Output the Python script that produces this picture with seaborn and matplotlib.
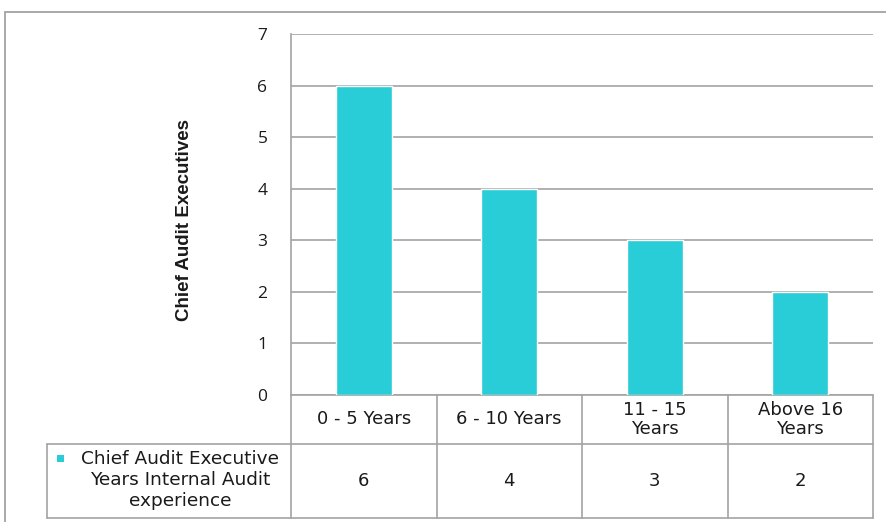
import matplotlib
matplotlib.use("Agg")
import matplotlib.pyplot as plt
import matplotlib.transforms as mtransforms
from matplotlib.patches import Rectangle
import seaborn as sns
import pandas as pd

# Data
categories = ["0 - 5 Years", "6 - 10 Years", "11 - 15\nYears", "Above 16\nYears"]
executives = [6, 4, 3, 2]
series_label = "Chief Audit Executive\nYears Internal Audit\nexperience"
y_ticks = [0, 1, 2, 3, 4, 5, 6, 7]

BAR = "#29CDD7"
LINE = "#a3a3a3"
TEXT = "#1a1a1a"
TABLE_FONT = ["DejaVu Sans"]
TABLE_SIZE = 13

sns.set_theme(style="white")
plt.rcParams["font.family"] = ["Liberation Sans", "DejaVu Sans"]

W, H = 886, 522
fig = plt.figure(figsize=(W / 100, H / 100), dpi=100)
fig.patch.set_facecolor("white")

# Outer chart frame (open on the right and bottom)
fig.add_artist(Rectangle((5 / W, -0.1), 1.2, (H - 12) / H + 0.1, transform=fig.transFigure,
                         fill=False, edgecolor=LINE, linewidth=1.3))

left, right, top, bottom = 291, 873, 34, 395
ax = fig.add_axes([left / W, (H - bottom) / H, (right - left) / W, (bottom - top) / H])

df = pd.DataFrame({"cat": categories, "val": executives})
sns.barplot(data=df, x="cat", y="val", color=BAR, saturation=1, width=0.385, ax=ax, zorder=3)

ax.set_ylim(0, 7)
ax.set_xlim(-0.5, len(categories) - 0.5)
ax.set_yticks(y_ticks)
ax.set_yticklabels([str(t) for t in y_ticks], fontsize=12.5, color=TEXT,
                   family=["Open Sans", "DejaVu Sans"])
ax.tick_params(axis="y", length=0, pad=17)
ax.set_xticks([])
ax.set_xlabel("")
ax.set_ylabel("Chief Audit Executives", fontsize=13.5, fontweight="bold", color=TEXT)
ax.yaxis.set_label_coords((193 - left) / (right - left), (bottom - 220) / (bottom - top))
ax.grid(axis="y", color=LINE, linewidth=1.2, zorder=0)
ax.set_axisbelow(True)
for s in ["top", "right", "bottom"]:
    ax.spines[s].set_visible(False)
ax.spines["left"].set_color(LINE)
ax.spines["left"].set_linewidth(1.2)

# Data table under the plot
ph = bottom - top
y_head = -(444 - bottom) / ph
y_data = -(518 - bottom) / ph
x_lab = (47 - left) / (right - left)
blend = mtransforms.blended_transform_factory(ax.transData, ax.transAxes)
lk = dict(color=LINE, linewidth=1.2, clip_on=False)

n = len(categories)
# horizontal lines
ax.plot([-0.5, n - 0.5], [0, 0], transform=blend, **lk)
ax.plot([x_lab, 1], [y_head, y_head], transform=ax.transAxes, **lk)
ax.plot([x_lab, 1], [y_data, y_data], transform=ax.transAxes, **lk)
# vertical lines
for i in range(n + 1):
    ax.plot([i - 0.5, i - 0.5], [y_data, 0], transform=blend, **lk)
ax.plot([x_lab, x_lab], [y_data, y_head], transform=ax.transAxes, **lk)

for i, (c, v) in enumerate(zip(categories, executives)):
    ax.text(i, y_head / 2, c, transform=blend, ha="center", va="center",
            fontsize=TABLE_SIZE, color=TEXT, linespacing=1.1, family=TABLE_FONT)
    ax.text(i, (y_head + y_data) / 2, str(v), transform=blend, ha="center", va="center",
            fontsize=TABLE_SIZE, color=TEXT, family=TABLE_FONT)

# Series label with its colour key
ax.text((180 - left) / (right - left), (y_head + y_data) / 2 + 1 / ph, series_label,
        transform=ax.transAxes, ha="center", va="center", fontsize=TABLE_SIZE + 0.3, color=TEXT,
        multialignment="center", linespacing=1.25, family=TABLE_FONT)
ax.add_artist(Rectangle(((57 - left) / (right - left), -(462 - bottom) / ph),
                        7 / (right - left), 7 / ph, transform=ax.transAxes,
                        facecolor=BAR, edgecolor="none", clip_on=False))

fig.savefig("out.png", dpi=100, facecolor="white")
